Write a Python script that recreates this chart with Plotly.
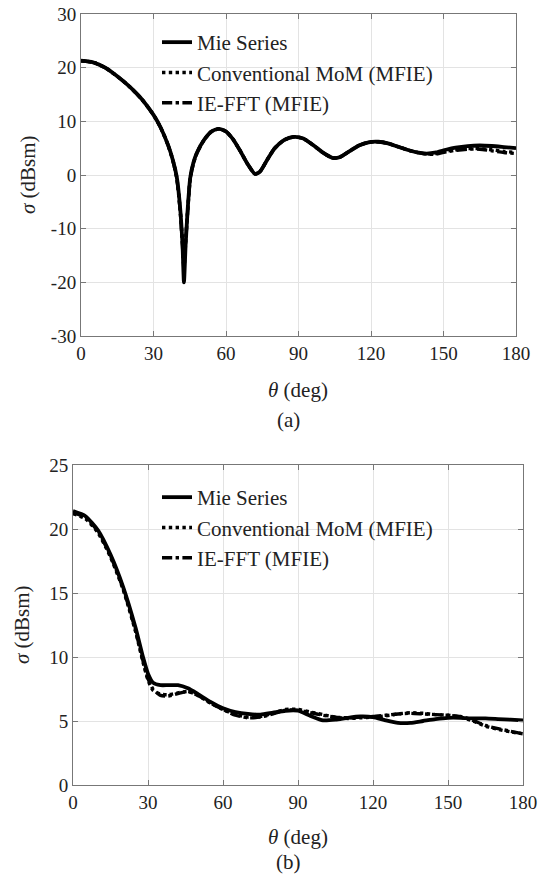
import plotly.graph_objects as go

# ---------------- data (a) ----------------
theta_a_mie = [0, 5, 10, 15, 20, 25, 30, 33, 36, 38, 39.6, 41, 42, 42.6, 43.3, 44.2, 45.2, 46.5, 48, 51, 54, 57, 60, 63, 66,
               69, 72, 74, 77, 80, 84, 88, 92, 96, 100, 104, 107, 111, 115, 119, 123, 127, 131, 135, 139, 143, 147, 151,
               155, 160, 165, 170, 175, 180]
mie_a = [21.3, 21.0, 20.0, 18.4, 16.5, 14.2, 11.2, 8.8, 5.6, 2.8, -0.3, -6.0, -13.0, -20.0, -13.0, -6.0, -0.5, 2.3, 4.2,
         6.6, 8.1, 8.6, 8.1, 6.6, 4.4, 2.0, 0.2, 0.6, 2.8, 4.9, 6.5, 7.1, 6.8, 5.6, 4.2, 3.2, 3.3, 4.4, 5.5, 6.1, 6.2,
         5.9, 5.3, 4.7, 4.2, 4.0, 4.2, 4.7, 5.1, 5.4, 5.5, 5.4, 5.2, 5.0]
mom_a = [21.3, 21.0, 20.0, 18.4, 16.5, 14.2, 11.2, 8.8, 5.6, 2.8, -0.4, -6.2, -12.5, -17.0, -12.2, -6.2, -0.6, 2.2, 4.2,
         6.6, 8.1, 8.6, 8.1, 6.6, 4.4, 2.0, 0.2, 0.6, 2.8, 4.9, 6.5, 7.1, 6.8, 5.6, 4.2, 3.2, 3.3, 4.4, 5.5, 6.1, 6.2,
         5.9, 5.3, 4.7, 4.2, 3.9, 4.0, 4.4, 4.7, 4.9, 4.9, 4.7, 4.4, 4.2]
iefft_a = [21.3, 21.0, 20.0, 18.4, 16.5, 14.2, 11.2, 8.8, 5.6, 2.7, -0.5, -6.5, -13.2, -17.5, -12.5, -6.4, -0.7, 2.1, 4.1,
           6.6, 8.1, 8.6, 8.1, 6.6, 4.4, 2.0, 0.2, 0.6, 2.8, 4.9, 6.5, 7.1, 6.8, 5.6, 4.2, 3.2, 3.3, 4.4, 5.5, 6.1, 6.2,
           5.9, 5.3, 4.7, 4.2, 3.9, 3.9, 4.3, 4.6, 4.8, 4.8, 4.5, 4.2, 4.0]

# ---------------- data (b) ----------------
theta_b = [0, 5, 10, 15, 20, 25, 28, 30, 32, 35, 38, 42, 46, 50, 55, 60, 65, 70, 75, 80, 85, 90, 95, 100, 105, 110, 115,
           120, 125, 130, 135, 140, 145, 150, 155, 160, 165, 170, 175, 180]
mie_b = [21.4, 21.0, 19.9, 18.0, 15.5, 12.3, 10.0, 8.7, 8.0, 7.8, 7.8, 7.8, 7.55, 7.1, 6.5, 6.0, 5.7, 5.55, 5.5, 5.65, 5.8,
         5.8, 5.4, 5.05, 5.1, 5.25, 5.35, 5.3, 5.05, 4.85, 4.85, 5.0, 5.15, 5.25, 5.25, 5.2, 5.2, 5.15, 5.1, 5.05]
mom_b = [21.2, 20.8, 19.7, 17.8, 15.3, 12.0, 9.6, 8.2, 7.4, 7.1, 7.05, 7.2, 7.3, 7.0, 6.4, 5.9, 5.5, 5.3, 5.35, 5.6, 5.9,
         5.9, 5.7, 5.5, 5.3, 5.2, 5.25, 5.3, 5.4, 5.55, 5.65, 5.6, 5.5, 5.45, 5.3, 5.0, 4.6, 4.35, 4.15, 4.0]
iefft_b = [21.3, 20.9, 19.8, 17.9, 15.4, 12.1, 9.7, 8.3, 7.5, 7.0, 6.95, 7.15, 7.3, 7.0, 6.4, 5.9, 5.45, 5.25, 5.3, 5.55,
           5.85, 5.85, 5.65, 5.45, 5.3, 5.25, 5.3, 5.35, 5.45, 5.55, 5.6, 5.55, 5.5, 5.45, 5.35, 5.05, 4.65, 4.4, 4.2, 4.0]

series_names = ["Mie Series", "Conventional MoM (MFIE)", "IE-FFT (MFIE)"]
x_ticks = [0, 30, 60, 90, 120, 150, 180]
x_tick_labels = ["0", "30", "60", "90", "120", "150", "180"]
y_ticks_a = [-30, -20, -10, 0, 10, 20, 30]
y_tick_labels_a = ["-30", "-20", "-10", "0", "10", "20", "30"]
y_ticks_b = [0, 5, 10, 15, 20, 25]
y_tick_labels_b = ["0", "5", "10", "15", "20", "25"]

FONT = "'Liberation Serif', 'DejaVu Serif', 'Noto Serif', serif"
TXT = "#222222"
W, H = 559, 885

fig = go.Figure()
dashes = ["solid", "dot", "dashdot"]
widths = [3.8, 3.4, 3.4]

for name, y, d, w in zip(series_names, [mie_a, mom_a, iefft_a], dashes, widths):
    fig.add_trace(go.Scatter(x=theta_a_mie, y=y, mode="lines", name=name, xaxis="x", yaxis="y",
                             line=dict(color="black", width=w, dash=d, shape="spline", smoothing=0.6),
                             legend="legend"))
for name, y, d, w in zip(series_names, [mie_b, mom_b, iefft_b], dashes, widths):
    fig.add_trace(go.Scatter(x=theta_b, y=y, mode="lines", name=name, xaxis="x2", yaxis="y2",
                             line=dict(color="black", width=w, dash=d, shape="spline", smoothing=0.6),
                             legend="legend2"))

axis_common = dict(
    showline=True, linecolor="#777777", linewidth=1, mirror="ticks",
    ticks="inside", ticklen=5, tickcolor="#777777", automargin=False,
    showgrid=True, gridcolor="#e3e3e3", gridwidth=1, zeroline=False,
    tickfont=dict(family=FONT, size=19, color=TXT),
)

fig.update_layout(
    width=W, height=H,
    margin=dict(l=0, r=0, t=0, b=0, pad=0, autoexpand=False),
    paper_bgcolor="white", plot_bgcolor="white",
    showlegend=True,
    font=dict(family=FONT, color=TXT),
    xaxis=dict(domain=[81 / W, 516 / W], range=[0, 180], tickvals=x_ticks, ticktext=x_tick_labels,
               anchor="y", **axis_common),
    yaxis=dict(domain=[1 - 336 / H, 1 - 14 / H], range=[-30, 30], tickvals=y_ticks_a, ticktext=y_tick_labels_a,
               anchor="x", **axis_common),
    xaxis2=dict(domain=[73 / W, 523 / W], range=[0, 180], tickvals=x_ticks, ticktext=x_tick_labels,
                anchor="y2", **axis_common),
    yaxis2=dict(domain=[1 - 785 / H, 1 - 465 / H], range=[0, 25], tickvals=y_ticks_b, ticktext=y_tick_labels_b,
                anchor="x2", **axis_common),
    legend=dict(x=157 / W, y=1 - 22 / H, xanchor="left", yanchor="top", bgcolor="rgba(0,0,0,0)",
                font=dict(family=FONT, size=21, color=TXT), itemwidth=30, tracegroupgap=0),
    legend2=dict(x=157 / W, y=1 - 477 / H, xanchor="left", yanchor="top", bgcolor="rgba(0,0,0,0)",
                 font=dict(family=FONT, size=21, color=TXT), itemwidth=30, tracegroupgap=0),
)

ann = [
    dict(text="<i>θ</i> (deg)", x=298 / W, y=1 - 390 / H),
    dict(text="(a)", x=288 / W, y=1 - 420 / H),
    dict(text="<i>θ</i> (deg)", x=298 / W, y=1 - 837 / H),
    dict(text="(b)", x=288 / W, y=1 - 862 / H),
    dict(text="<i>σ</i> (dBsm)", x=28 / W, y=1 - 175 / H, textangle=-90),
    dict(text="<i>σ</i> (dBsm)", x=22 / W, y=1 - 625 / H, textangle=-90),
]
for a in ann:
    fig.add_annotation(xref="paper", yref="paper", showarrow=False, xanchor="center", yanchor="middle",
                       font=dict(family=FONT, size=21, color=TXT), **a)

fig.write_html("out.html", config={"displayModeBar": False},
               post_script="document.body.style.margin='0px';document.body.style.overflow='hidden';")
